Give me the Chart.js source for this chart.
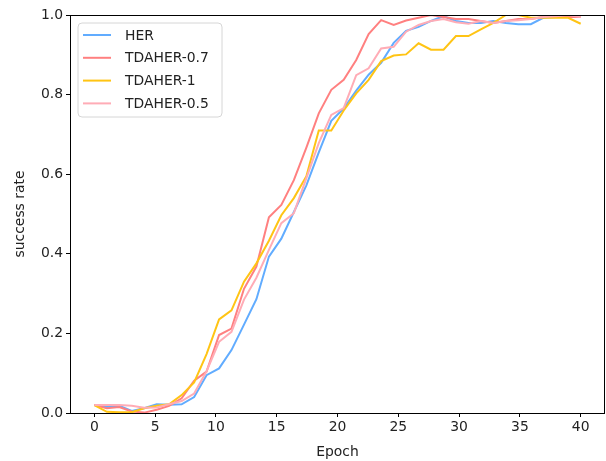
<!DOCTYPE html>
<html>
<head>
<meta charset="utf-8">
<script src="https://cdn.jsdelivr.net/npm/chart.js@4.4.1/dist/chart.umd.min.js"></script>
<style>
  html, body { margin: 0; padding: 0; background: #fff; }
  #wrap { width: 606px; height: 461px; }
</style>
</head>
<body>
<div id="wrap"><canvas id="c" width="606" height="461"></canvas></div>
<script>
// 40 evaluation points spread over 0..40 epochs
var epochs = [0, 1.03, 2.05, 3.08, 4.10, 5.13, 6.15, 7.18, 8.21, 9.23,
  10.26, 11.28, 12.31, 13.33, 14.36, 15.38, 16.41, 17.44, 18.46, 19.49,
  20.51, 21.54, 22.56, 23.59, 24.62, 25.64, 26.67, 27.69, 28.72, 29.74,
  30.77, 31.79, 32.82, 33.85, 34.87, 35.90, 36.92, 37.95, 38.97, 40];

var her = [0.020, 0.015, 0.018, 0.005, 0.012, 0.022, 0.021, 0.022, 0.040, 0.095,
  0.112, 0.158, 0.222, 0.286, 0.393, 0.438, 0.505, 0.572, 0.655, 0.734,
  0.765, 0.810, 0.850, 0.880, 0.930, 0.960, 0.970, 0.985, 0.997, 0.985,
  0.980, 0.980, 0.985, 0.980, 0.977, 0.977, 0.993, 0.995, 0.995, 1.000];

var tdaher07 = [0.020, 0.012, 0.015, 0.004, 0.001, 0.008, 0.018, 0.037, 0.081, 0.104,
  0.196, 0.212, 0.312, 0.368, 0.492, 0.523, 0.585, 0.667, 0.753, 0.812,
  0.837, 0.887, 0.952, 0.987, 0.975, 0.986, 0.993, 1.000, 0.995, 0.990,
  0.990, 0.985, 0.980, 0.985, 0.990, 0.990, 0.995, 1.000, 0.995, 0.995];

var tdaher1 = [0.020, 0.003, 0.002, 0.002, 0.012, 0.018, 0.022, 0.045, 0.077, 0.148,
  0.235, 0.258, 0.330, 0.376, 0.433, 0.497, 0.540, 0.595, 0.710, 0.710,
  0.760, 0.803, 0.837, 0.884, 0.898, 0.901, 0.929, 0.913, 0.913, 0.947,
  0.947, 0.964, 0.980, 1.000, 1.000, 0.993, 0.993, 0.993, 0.993, 0.978];

var tdaher05 = [0.020, 0.020, 0.020, 0.018, 0.013, 0.014, 0.022, 0.030, 0.049, 0.105,
  0.179, 0.204, 0.285, 0.340, 0.410, 0.477, 0.502, 0.590, 0.678, 0.749,
  0.766, 0.849, 0.866, 0.916, 0.920, 0.958, 0.975, 0.985, 0.990, 0.982,
  0.978, 0.985, 0.980, 0.985, 0.987, 0.990, 0.995, 0.997, 1.000, 0.995];

var seriesNames = ['HER', 'TDAHER-0.7', 'TDAHER-1', 'TDAHER-0.5'];
var seriesColors = ['rgb(97,172,255)', 'rgb(255,128,128)', 'rgb(255,196,20)', 'rgb(255,172,182)'];
var xTicks = [0, 5, 10, 15, 20, 25, 30, 35, 40];
var yTicks = [0.0, 0.2, 0.4, 0.6, 0.8, 1.0];

var FONT = 'DejaVu Sans';
var FS = 13.9;

function pts(vals){ return vals.map(function(v, i){ return { x: epochs[i], y: v }; }); }

// axes frame on all four sides, like matplotlib spines
var framePlugin = {
  id: 'frame',
  afterDatasetsDraw: function(chart){
    var a = chart.chartArea, ctx = chart.ctx;
    ctx.save();
    ctx.strokeStyle = '#000'; ctx.lineWidth = 1;
    ctx.strokeRect(Math.round(a.left) + 0.5, Math.round(a.top) + 0.5, Math.round(a.right - a.left) - 1, Math.round(a.bottom - a.top));
    ctx.restore();
  }
};

// legend box in the upper left corner of the plot
var legendPlugin = {
  id: 'mplLegend',
  afterDraw: function(chart){
    var a = chart.chartArea, ctx = chart.ctx;
    var x0 = a.left + 8, y0 = a.top + 8, w = 144, h = 94, r = 4;
    ctx.save();
    ctx.beginPath();
    ctx.moveTo(x0 + r, y0); ctx.lineTo(x0 + w - r, y0); ctx.quadraticCurveTo(x0 + w, y0, x0 + w, y0 + r);
    ctx.lineTo(x0 + w, y0 + h - r); ctx.quadraticCurveTo(x0 + w, y0 + h, x0 + w - r, y0 + h);
    ctx.lineTo(x0 + r, y0 + h); ctx.quadraticCurveTo(x0, y0 + h, x0, y0 + h - r);
    ctx.lineTo(x0, y0 + r); ctx.quadraticCurveTo(x0, y0, x0 + r, y0);
    ctx.closePath();
    ctx.fillStyle = 'rgba(255,255,255,0.8)'; ctx.fill();
    ctx.strokeStyle = '#d6d6d6'; ctx.lineWidth = 1; ctx.stroke();
    ctx.font = FS + 'px "' + FONT + '"';
    ctx.textBaseline = 'middle'; ctx.textAlign = 'left';
    chart.data.datasets.forEach(function(ds, i){
      var yy = y0 + 12 + i * 22.8;
      ctx.strokeStyle = ds.borderColor; ctx.lineWidth = 2;
      ctx.beginPath(); ctx.moveTo(x0 + 5, yy); ctx.lineTo(x0 + 33, yy); ctx.stroke();
      ctx.fillStyle = '#222';
      ctx.fillText(ds.label, x0 + 47, yy + 1);
    });
    ctx.restore();
  }
};

var datasets = [her, tdaher07, tdaher1, tdaher05].map(function(vals, i){
  return {
    label: seriesNames[i],
    data: pts(vals),
    borderColor: seriesColors[i],
    backgroundColor: seriesColors[i],
    borderWidth: 2,
    pointRadius: 0,
    tension: 0,
    fill: false,
    order: 4 - i
  };
});

new Chart(document.getElementById('c'), {
  type: 'line',
  data: { datasets: datasets },
  plugins: [framePlugin, legendPlugin],
  options: {
    responsive: false,
    animation: false,
    devicePixelRatio: 1,
    layout: { padding: { left: 0, right: 1, top: 15, bottom: 0 } },
    plugins: { legend: { display: false }, tooltip: { enabled: false } },
    scales: {
      x: {
        type: 'linear',
        min: -2.0,
        max: 42.0,
        afterFit: function(s){ s.height = 48; },
        afterBuildTicks: function(s){ s.ticks = xTicks.map(function(v){ return { value: v }; }); },
        ticks: { color: '#222', font: { family: FONT, size: FS }, padding: 2, maxRotation: 0, callback: function(v){ return String(v); } },
        grid: { drawOnChartArea: false, drawTicks: true, tickLength: 4, color: '#000' },
        border: { display: false },
        title: { display: true, text: 'Epoch', color: '#222', font: { family: FONT, size: FS }, padding: { top: 0, bottom: 0 } }
      },
      y: {
        min: 0,
        max: 1,
        afterFit: function(s){ s.width = 70; },
        afterBuildTicks: function(s){ s.ticks = yTicks.map(function(v){ return { value: v }; }); },
        ticks: { color: '#222', font: { family: FONT, size: FS }, padding: 3, callback: function(v){ return Number(v).toFixed(1); } },
        grid: { drawOnChartArea: false, drawTicks: true, tickLength: 4, color: '#000' },
        border: { display: false },
        title: { display: true, text: 'success rate', color: '#222', font: { family: FONT, size: FS }, padding: { top: 12, bottom: 0 } }
      }
    }
  }
});
</script>
</body>
</html>
